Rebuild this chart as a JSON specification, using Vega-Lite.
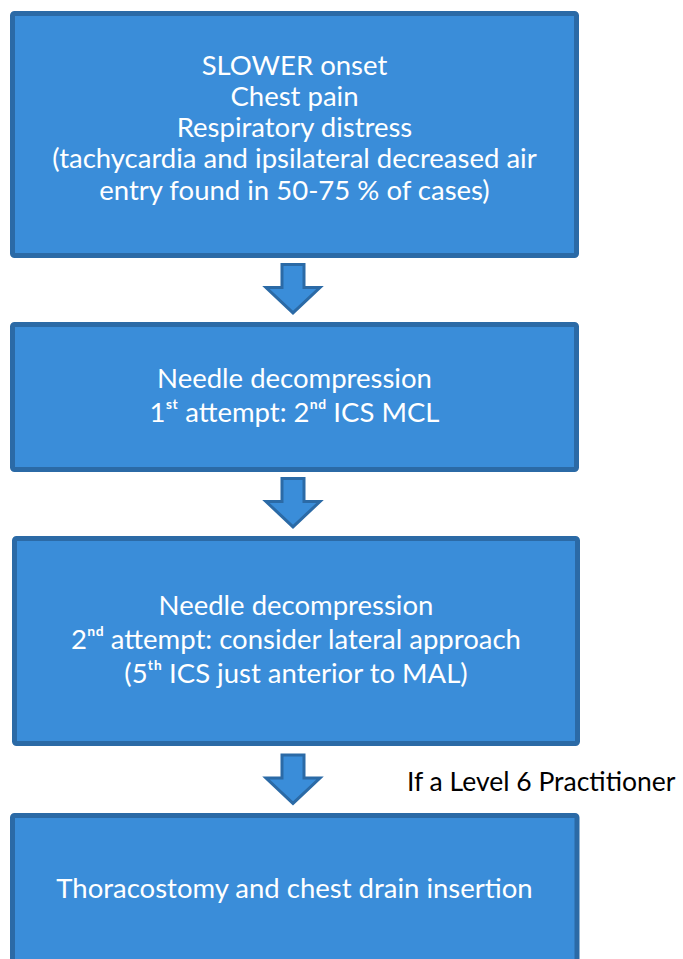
{
  "$schema": "https://vega.github.io/schema/vega-lite/v6.json",
  "width": 683,
  "height": 959,
  "padding": 0,
  "autosize": {"type": "fit", "contains": "padding"},
  "background": "white",
  "config": {"view": {"stroke": null}},
  "datasets": {
    "boxes": [
      {"box": "1", "x1": 12.5, "x2": 576.5, "y1": 13.5, "y2": 255.5},
      {"box": "2", "x1": 12.5, "x2": 576.5, "y1": 324.5, "y2": 469.5},
      {"box": "3", "x1": 14.5, "x2": 577.5, "y1": 538.5, "y2": 743.5},
      {"box": "4", "x1": 12.5, "x2": 577, "y1": 815.5, "y2": 966}
    ],
    "arrows": [
      {"arrow": "1", "ax": 293, "ay": 289.5},
      {"arrow": "2", "ax": 293, "ay": 503.5},
      {"arrow": "3", "ax": 293, "ay": 780}
    ],
    "boxtext": [
      {"tx": 294.5, "ty": 67, "label": "SLOWER onset"},
      {"tx": 294.5, "ty": 98, "label": "Chest pain"},
      {"tx": 294.5, "ty": 129, "label": "Respiratory distress"},
      {"tx": 294.5, "ty": 160, "label": "(tachycardia and ipsilateral decreased air"},
      {"tx": 294.5, "ty": 192, "label": "entry found in 50-75 % of cases)"},
      {"tx": 294.5, "ty": 380, "label": "Needle decompression"},
      {"tx": 294.5, "ty": 414, "label": "1ˢᵗ attempt: 2ⁿᵈ ICS MCL"},
      {"tx": 296, "ty": 607, "label": "Needle decompression"},
      {"tx": 296, "ty": 641, "label": "2ⁿᵈ attempt: consider lateral approach"},
      {"tx": 296, "ty": 675, "label": "(5ᵗʰ ICS just anterior to MAL)"},
      {"tx": 294.5, "ty": 890, "label": "Thoracostomy and chest drain insertion"}
    ],
    "note": [
      {"tx": 407, "ty": 783, "label": "If a Level 6 Practitioner"}
    ]
  },
  "layer": [
    {
      "data": {"name": "boxes"},
      "mark": {"type": "rect", "fill": "#3a8dd9", "stroke": "#2b6aa6", "strokeWidth": 5, "cornerRadius": 2, "clip": true},
      "encoding": {
        "x": {"field": "x1", "type": "quantitative", "scale": {"domain": [0, 683], "nice": false, "zero": false}, "axis": null},
        "x2": {"field": "x2"},
        "y": {"field": "y1", "type": "quantitative", "scale": {"domain": [0, 959], "nice": false, "zero": false, "reverse": true}, "axis": null},
        "y2": {"field": "y2"}
      }
    },
    {
      "data": {"name": "arrows"},
      "mark": {"type": "point", "filled": true, "fill": "#3a8dd9", "stroke": "#2b6aa6", "strokeWidth": 3, "opacity": 1, "fillOpacity": 1, "strokeOpacity": 1, "size": 3249, "strokeJoin": "miter",
        "shape": "M-0.386,-0.877 L0.386,-0.877 L0.386,-0.07 L0.947,-0.07 L0,0.82 L-0.947,-0.07 L-0.386,-0.07 Z"},
      "encoding": {
        "x": {"field": "ax", "type": "quantitative"},
        "y": {"field": "ay", "type": "quantitative"}
      }
    },
    {
      "data": {"name": "boxtext"},
      "mark": {"type": "text", "font": "Lato", "fontSize": 27.5, "color": "white", "align": "center", "baseline": "middle"},
      "encoding": {
        "x": {"field": "tx", "type": "quantitative"},
        "y": {"field": "ty", "type": "quantitative"},
        "text": {"field": "label"}
      }
    },
    {
      "data": {"name": "note"},
      "mark": {"type": "text", "font": "Lato", "fontSize": 26.5, "color": "black", "align": "left", "baseline": "middle"},
      "encoding": {
        "x": {"field": "tx", "type": "quantitative"},
        "y": {"field": "ty", "type": "quantitative"},
        "text": {"field": "label"}
      }
    }
  ]
}
